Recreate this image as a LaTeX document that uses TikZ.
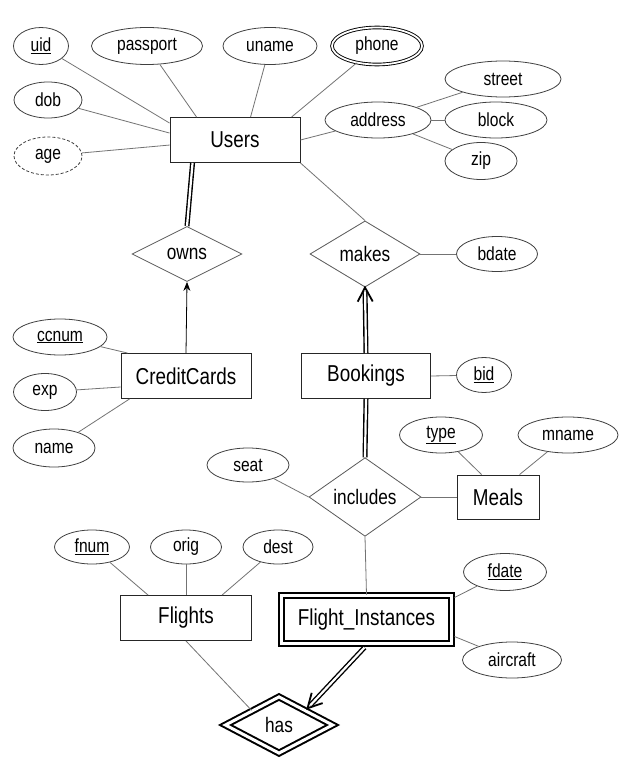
\documentclass[tikz,border=0pt]{standalone}
\usepackage{fontspec}
\setmainfont{Liberation Sans}[FakeStretch=0.82]
\usetikzlibrary{shapes.geometric,arrows.meta,calc}
\begin{document}
\begin{tikzpicture}[x=1pt,y=-1pt,
 attr/.style={ellipse,draw=black!75,line width=0.8pt,inner sep=0,font=\fontsize{19}{21}\selectfont},
 ent/.style={rectangle,draw=black!85,line width=0.9pt,inner sep=0,minimum width=130pt,minimum height=45pt,font=\fontsize{23}{26}\selectfont},
 rel/.style={diamond,draw=black!65,line width=0.8pt,inner sep=0,minimum width=110pt,minimum height=55pt,font=\fontsize{21}{24}\selectfont},
 conn/.style={draw=black!55,line width=0.8pt},
 dbl/.style={draw=black,line width=1.4pt,double=white,double distance=2.2pt},
 chev/.style={draw=black,line width=1.8pt,line join=miter,line cap=butt},
]
\useasboundingbox[fill=white] (0,0) rectangle (639,765);

% entities
\node[ent] (users) at (235,140) {Users};
\node[ent] (cc) at (186,376) {CreditCards};
\node[ent,minimum width=129pt] (book) at (366,376) {Bookings};
\node[ent,minimum width=82pt,minimum height=44pt] (meals) at (498,497) {Meals};
\node[ent,minimum width=131pt] (flights) at (186,618) {Flights};
\node[ent,draw=black,line width=2pt,double=white,double distance=3pt,minimum width=170pt,minimum height=48pt] (fi) at (366.5,619.5) {Flight\_Instances};

% relationships
\node[rel] (owns) at (187,254) {owns};
\node[rel] (makes) at (365,254) {makes};
\node[rel,minimum width=112pt,minimum height=56pt] (incl) at (365,497) {includes};
\node[rel,draw=black,line width=2pt,double=white,double distance=3pt,minimum width=108pt,minimum height=57pt] (has) at (279,725) {has};

% attributes
\node[attr,minimum width=55pt,minimum height=37pt] (uid) at (41,46) {\underline{uid}};
\node[attr,minimum width=111pt,minimum height=37pt] (passport) at (147,46) {passport};
\node[attr,minimum width=94pt,minimum height=37pt] (uname) at (270,46) {uname};
\node[attr,draw=black,line width=0.9pt,double=white,double distance=1.8pt,minimum width=90pt,minimum height=37pt] (phone) at (377,46) {phone};
\node[attr,minimum width=68pt,minimum height=36pt] (dob) at (48,100) {dob};
\node[attr,dash pattern=on 3pt off 2pt,minimum width=68pt,minimum height=38pt] (age) at (48,156) {age};
\node[attr,minimum width=106pt,minimum height=36pt] (address) at (378,120) {address};
\node[attr,minimum width=116pt,minimum height=36pt] (street) at (503,79) {street};
\node[attr,minimum width=102pt,minimum height=36pt] (block) at (496,120) {block};
\node[attr,minimum width=72pt,minimum height=37pt] (zip) at (481,161) {zip};
\node[attr,minimum width=81pt,minimum height=35pt] (bdate) at (497,254) {bdate};
\node[attr,minimum width=94pt,minimum height=36pt] (ccnum) at (60,337) {\underline{ccnum}};
\node[attr,minimum width=63pt,minimum height=37pt] (exp) at (45,392) {exp};
\node[attr,minimum width=82pt,minimum height=38pt] (name) at (54,448) {name};
\node[attr,minimum width=55pt,minimum height=35pt] (bid) at (484,375) {\underline{bid}};
\node[attr,minimum width=83pt,minimum height=36pt] (type) at (441,435) {\underline{type}};
\node[attr,minimum width=100pt,minimum height=36pt] (mname) at (568,435) {mname};
\node[attr,minimum width=82pt,minimum height=34pt] (seat) at (248,465) {seat};
\node[attr,minimum width=75pt,minimum height=34pt] (fnum) at (92,547) {\underline{fnum}};
\node[attr,minimum width=71pt,minimum height=34pt] (orig) at (186,547) {orig};
\node[attr,minimum width=70pt,minimum height=34pt] (dest) at (278,547) {dest};
\node[attr,minimum width=83pt,minimum height=37pt] (fdate) at (505,572) {\underline{fdate}};
\node[attr,minimum width=99pt,minimum height=36pt] (aircraft) at (512,660) {aircraft};

% connectors: Users
\draw[conn] (uid) -- ($(users.north west)+(0,6)$);
\draw[conn] (passport) -- ($(users.north west)+(27,0)$);
\draw[conn] (uname) -- ($(users.north west)+(81,0)$);
\draw[conn] (phone) -- ($(users.north west)+(122,0)$);
\draw[conn] (dob) -- ($(users.north west)+(0,16)$);
\draw[conn] (age) -- ($(users.north west)+(0,28)$);
\draw[conn] (users.east) -- (address);
\draw[conn] (address) -- (street);
\draw[conn] (address) -- (block);
\draw[conn] (address) -- (zip);
\draw[conn] (users.south east) -- (makes.north);
\draw[dbl] ($(users.south west)+(23,0)$) -- (owns.north);

% CreditCards
\draw[conn,draw=black,-{Stealth[length=9pt,width=7pt]}] (cc.north) -- (owns.south);
\draw[conn] (ccnum) -- ($(cc.north west)+(7,0)$);
\draw[conn] (exp) -- ($(cc.west)+(0,11)$);
\draw[conn] (name) -- ($(cc.south west)+(9,0)$);

% Bookings / makes
\coordinate (mtip) at (makes.south);
\draw[dbl] (book.north) -- ($(mtip)!4pt!(book.north)$);
\draw[chev] ($(mtip)!16pt!28:(book.north)$) -- (mtip) -- ($(mtip)!16pt!-28:(book.north)$);
\draw[conn] (makes.east) -- (bdate);
\draw[conn] (book.east) -- (bid);
\draw[dbl] (book.south) -- (incl.north);

% includes / Meals
\draw[conn] (incl.east) -- (meals.west);
\draw[conn] (seat) -- (incl.west);
\draw[conn] (type) -- ($(meals.north west)+(25,0)$);
\draw[conn] (mname) -- ($(meals.north west)+(63,0)$);
\draw[conn] (incl.south) -- (fi.north);

% Flight_Instances
\draw[conn] (fdate) -- ($(fi.north east)+(2,3)$);
\draw[conn] (aircraft) -- ($(fi.south east)+(2,-8)$);
\coordinate (htip) at ($(has.north)!0.5!(has.east)+(1,-2)$);
\coordinate (hstart) at ($(fi.south)+(-2,3)$);
\draw[dbl] (hstart) -- ($(htip)!4pt!(hstart)$);
\draw[chev] ($(htip)!16pt!28:(hstart)$) -- (htip) -- ($(htip)!16pt!-28:(hstart)$);

% Flights
\draw[conn] (fnum) -- ($(flights.north west)+(28,0)$);
\draw[conn] (orig) -- (flights.north);
\draw[conn] (dest) -- ($(flights.north west)+(102,0)$);
\draw[conn] (flights.south) -- ($(has.north)!0.5!(has.west)$);
\end{tikzpicture}
\end{document}
